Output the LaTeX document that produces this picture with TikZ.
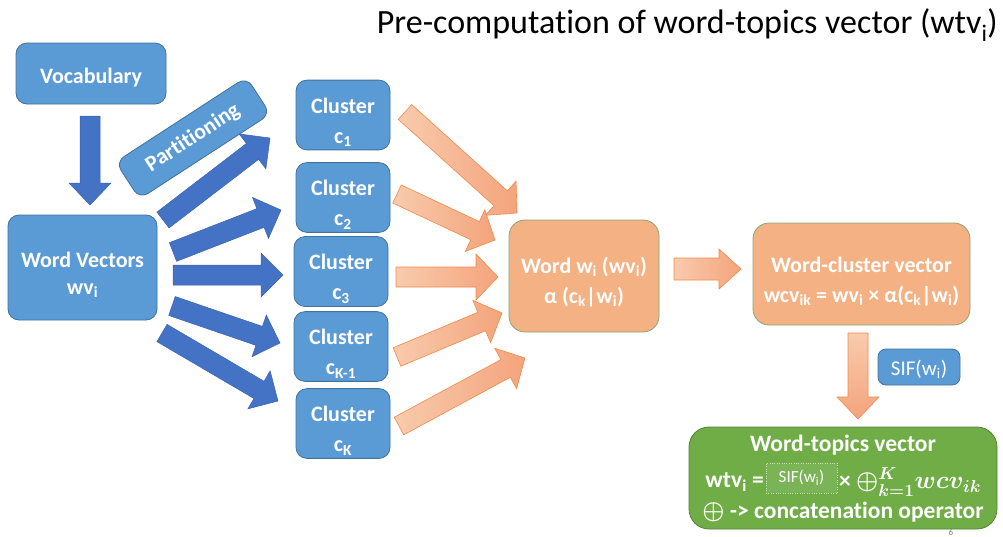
\documentclass[tikz,border=0pt]{standalone}
\usepackage{fontspec}
\setmainfont{Carlito}[Ligatures={NoCommon}]
\usetikzlibrary{calc}

\definecolor{boxblue}{HTML}{5B9BD5}
\definecolor{boxblueline}{HTML}{41719C}
\definecolor{arrblue}{HTML}{4472C4}
\definecolor{arrblueline}{HTML}{3B63AE}
\definecolor{boxorange}{HTML}{F4B183}
\definecolor{orlight}{HTML}{F8CBAD}
\definecolor{ordark}{HTML}{F4A47C}
\definecolor{orline}{HTML}{F08A4B}
\definecolor{boxgreen}{HTML}{70AD47}
\definecolor{greenline}{HTML}{548235}
\definecolor{paleg}{HTML}{C5E0B4}

% block arrow between two named points: #1 style, #2 tail, #3 tip,
% #4 half shaft width, #5 half head width (head length 22pt)
\newcommand\blockarrow[5]{%
  \path[#1] let \p1=(#2), \p2=(#3),
    \n1={atan2(\y2-\y1,\x2-\x1)}, \n2={veclen(\x2-\x1,\y2-\y1)} in
    [shift={(\p1)}, rotate=\n1]
    (0pt,-#4) -- (\n2-22pt,-#4) -- (\n2-22pt,-#5) -- (\n2,0pt)
    -- (\n2-22pt,#5) -- (\n2-22pt,#4) -- (0pt,#4) -- cycle;}
\newcommand\ix[1]{\textsubscript{#1}}
\newcommand\lift[1]{\rule{0pt}{#1}}
\newcommand\catop{\ensuremath{\oplus}}
\newcommand\wcvsum{\ensuremath{\oplus_{k=1}^{K} wcv_{ik}}}

\tikzset{
  lbl/.style={text=white, font=\bfseries\fontsize{22}{30}\selectfont, align=center},
  bbox/.style={lbl, draw=boxblueline, fill=boxblue, line width=0.8pt, rounded corners=11pt},
  obox/.style={lbl, draw=greenline!70, fill=boxorange, line width=0.8pt, rounded corners=16pt},
  gbox/.style={draw=greenline, fill=boxgreen, line width=0.8pt, rounded corners=20pt},
  wtext/.style={text=white, inner sep=0pt, font=\bfseries\fontsize{23.5}{28}\selectfont},
  mtext/.style={text=white, inner sep=0pt, font=\mathversion{bold}\bfseries\fontsize{23.5}{28}\selectfont},
  barr/.style={fill=arrblue, draw=arrblueline, line width=0.5pt},
  oarr/.style={left color=orlight, right color=ordark, draw=orline, line width=0.6pt},
  oarrdown/.style={top color=orlight, bottom color=ordark, draw=orline, line width=0.6pt},
  sifin/.style={draw=paleg, dotted, fill=boxgreen!92!white, text=white,
    font=\fontsize{17}{20}\selectfont, minimum width=71pt, minimum height=30pt, inner sep=0pt},
}

\begin{document}
\begin{tikzpicture}[x=1pt, y=-1pt]
\useasboundingbox (0,0) rectangle (1003,536);

% title
\node[anchor=east, font=\fontsize{34}{40}\selectfont, inner sep=0pt] (title) at (998,25)
  {Pre-computation of word-topics vector (wtv\ix{i})};

% left column
\node[bbox, minimum width=150pt, minimum height=61pt] (voc) at (91,73.5) {\lift{24pt}Vocabulary};
\node[bbox, minimum width=149pt, minimum height=105pt] (wv) at (82.5,267.5)
  {\lift{30pt}Word Vectors\\[-3pt]wv\ix{i}};
\node[bbox, rotate=33, minimum width=156pt, minimum height=44pt, rounded corners=10pt]
  (part) at (193,138) {Partitioning};

% clusters
\node[bbox, minimum width=94pt, minimum height=67pt] (c1) at (343,115) {\lift{30pt}Cluster\\c\ix{1}};
\node[bbox, minimum width=94pt, minimum height=67pt] (c2) at (343,197.5) {\lift{30pt}Cluster\\c\ix{2}};
\node[bbox, minimum width=94pt, minimum height=67pt] (c3) at (341,271.5) {\lift{30pt}Cluster\\c\ix{3}};
\node[bbox, minimum width=94pt, minimum height=67pt] (c4) at (341,346.5) {\lift{30pt}Cluster\\c\ix{K-1}};
\node[bbox, minimum width=94pt, minimum height=67pt] (c5) at (343,423.5) {\lift{30pt}Cluster\\c\ix{K}};

% right part
\node[obox, minimum width=150pt, minimum height=112pt] (word) at (584,276)
  {\lift{28pt}Word w\ix{i} (wv\ix{i})\\α (c\ix{k}|w\ix{i})};
\node[obox, minimum width=217pt, minimum height=102pt] (wcv) at (861.5,274)
  {\lift{30pt}Word-cluster vector\\wcv\ix{ik} = wv\ix{i} × α(c\ix{k}|w\ix{i})};
\node[bbox, minimum width=82pt, minimum height=36pt, rounded corners=8pt, inner sep=0pt,
  font=\fontsize{21}{25}\selectfont] (sif) at (919,367) {\lift{20pt}SIF(w\ix{i})};
\node[gbox, minimum width=308pt, minimum height=102pt] (wtv) at (843,478) {};
\node[wtext] (wl1) at (843,445) {Word-topics vector};
\node[wtext, anchor=east] (eqL) at (764,482) {wtv\ix{i} =};
\node[sifin] (sifin) at (801.5,478) {SIF(w\ix{i})};
\node[mtext, anchor=west] (eqR) at (839,482) {× \wcvsum};
\node[mtext] (wl3) at (843,512) {\catop{} -> concatenation operator};
\node[text=gray, font=\fontsize{9}{10}\selectfont] (pg) at (951,532) {6};

% arrow end points
\coordinate (vs) at (90,116);   \coordinate (ve) at (90,205);
\coordinate (b1s) at (163,220); \coordinate (b1e) at (270,138);
\coordinate (b2s) at (173,252); \coordinate (b2e) at (281,210);
\coordinate (b3s) at (173,275); \coordinate (b3e) at (283,275);
\coordinate (b4s) at (172,306); \coordinate (b4e) at (280,343);
\coordinate (b5s) at (162,333); \coordinate (b5e) at (278,401);
\coordinate (o1s) at (405,112); \coordinate (o1e) at (517,213);
\coordinate (o2s) at (397,194); \coordinate (o2e) at (495,240);
\coordinate (o3s) at (396,277); \coordinate (o3e) at (498,277);
\coordinate (o4s) at (397,357); \coordinate (o4e) at (502,313);
\coordinate (o5s) at (399,426); \coordinate (o5e) at (525,358);
\coordinate (o6s) at (674,269); \coordinate (o6e) at (741,269);
\coordinate (o7s) at (858,333); \coordinate (o7e) at (858,419);

% blue arrows
\blockarrow{barr}{vs}{ve}{10pt}{21pt}
\blockarrow{barr}{b1s}{b1e}{10pt}{22pt}
\blockarrow{barr}{b2s}{b2e}{10pt}{22pt}
\blockarrow{barr}{b3s}{b3e}{10pt}{22pt}
\blockarrow{barr}{b4s}{b4e}{10pt}{22pt}
\blockarrow{barr}{b5s}{b5e}{10pt}{22pt}

% orange arrows
\blockarrow{oarr}{o1s}{o1e}{10pt}{23pt}
\blockarrow{oarr}{o2s}{o2e}{10pt}{23pt}
\blockarrow{oarr}{o3s}{o3e}{10pt}{23pt}
\blockarrow{oarr}{o4s}{o4e}{10pt}{23pt}
\blockarrow{oarr}{o5s}{o5e}{10pt}{23pt}
\blockarrow{oarr}{o6s}{o6e}{11pt}{20pt}
\blockarrow{oarrdown}{o7s}{o7e}{10pt}{21pt}
\end{tikzpicture}
\end{document}
